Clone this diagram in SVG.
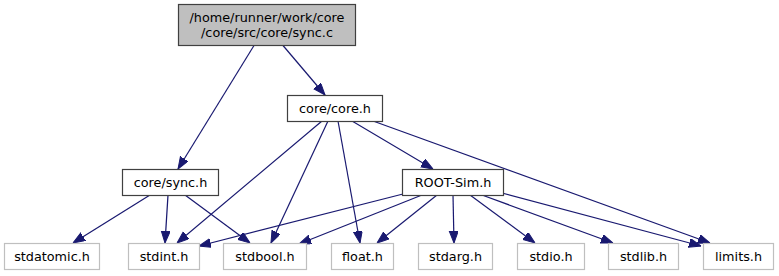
<svg xmlns="http://www.w3.org/2000/svg" width="779" height="276" viewBox="0 0 779 276">
  <style>
    text { font-family: "DejaVu Sans", Verdana, sans-serif; font-size: 12.8px; fill: #000; text-anchor: middle; }
    .doc rect { fill: #fff; stroke: #404040; stroke-width: 1.2; }
    .root rect { fill: #bfbfbf; stroke: #404040; stroke-width: 1.2; }
    .ext rect { fill: #fff; stroke: #bfbfbf; stroke-width: 1.2; }
    .edges line { stroke: #191970; stroke-width: 1.2; marker-end: url(#head); }
  </style>
  <defs>
    <marker id="head" markerUnits="userSpaceOnUse" markerWidth="12" markerHeight="10" refX="12" refY="4.5" orient="auto">
      <path d="M0,0 L12,4.5 L0,9 Z" fill="#191970" stroke="#191970" stroke-width="1"/>
    </marker>
  </defs>

  <!-- include edges -->
  <g id="edges" class="edges">
    <line x1="254" y1="45.5" x2="178" y2="169"/>
    <line x1="283" y1="45.5" x2="325" y2="95"/>
    <line x1="322" y1="121" x2="177" y2="243"/>
    <line x1="328" y1="121" x2="271" y2="243"/>
    <line x1="338" y1="121" x2="360" y2="243"/>
    <line x1="352" y1="121" x2="433" y2="169"/>
    <line x1="373" y1="121" x2="710" y2="243"/>
    <line x1="150" y1="195" x2="73" y2="243"/>
    <line x1="168" y1="195" x2="165" y2="243"/>
    <line x1="185" y1="195" x2="250" y2="243"/>
    <line x1="403" y1="194" x2="199" y2="246"/>
    <line x1="422" y1="195" x2="299" y2="244"/>
    <line x1="437" y1="195" x2="377" y2="243"/>
    <line x1="453" y1="195" x2="454" y2="243"/>
    <line x1="470" y1="195" x2="535" y2="243"/>
    <line x1="482" y1="195" x2="613" y2="243"/>
    <line x1="502" y1="193" x2="701" y2="246"/>
  </g>

  <g id="node-sync-c" class="root">
    <rect x="178.5" y="4.5" width="177" height="41"/>
    <text x="267" y="21.5">/home/runner/work/core</text>
    <text x="267" y="36.5">/core/src/core/sync.c</text>
  </g>
  <g id="node-core-h" class="doc">
    <rect x="287.5" y="95.5" width="95" height="26"/>
    <text x="335" y="112.5">core/core.h</text>
  </g>
  <g id="node-sync-h" class="doc">
    <rect x="122.5" y="169.5" width="96" height="26"/>
    <text x="170.5" y="186.5">core/sync.h</text>
  </g>
  <g id="node-rootsim-h" class="doc">
    <rect x="402.5" y="169.5" width="101" height="26"/>
    <text x="453" y="186.5">ROOT-Sim.h</text>
  </g>

  <g id="node-stdatomic" class="ext">
    <rect x="4.5" y="243.5" width="95" height="26"/>
    <text x="52" y="260.5">stdatomic.h</text>
  </g>
  <g id="node-stdint" class="ext">
    <rect x="128.5" y="243.5" width="71" height="26"/>
    <text x="164" y="260.5">stdint.h</text>
  </g>
  <g id="node-stdbool" class="ext">
    <rect x="223.5" y="243.5" width="83" height="26"/>
    <text x="265" y="260.5">stdbool.h</text>
  </g>
  <g id="node-float" class="ext">
    <rect x="331.5" y="243.5" width="62" height="26"/>
    <text x="362.5" y="260.5">float.h</text>
  </g>
  <g id="node-stdarg" class="ext">
    <rect x="418.5" y="243.5" width="74" height="26"/>
    <text x="455.5" y="260.5">stdarg.h</text>
  </g>
  <g id="node-stdio" class="ext">
    <rect x="517.5" y="243.5" width="67" height="26"/>
    <text x="551" y="260.5">stdio.h</text>
  </g>
  <g id="node-stdlib" class="ext">
    <rect x="608.5" y="243.5" width="70" height="26"/>
    <text x="643.5" y="260.5">stdlib.h</text>
  </g>
  <g id="node-limits" class="ext">
    <rect x="703.5" y="243.5" width="70" height="26"/>
    <text x="738.5" y="260.5">limits.h</text>
  </g>
</svg>
